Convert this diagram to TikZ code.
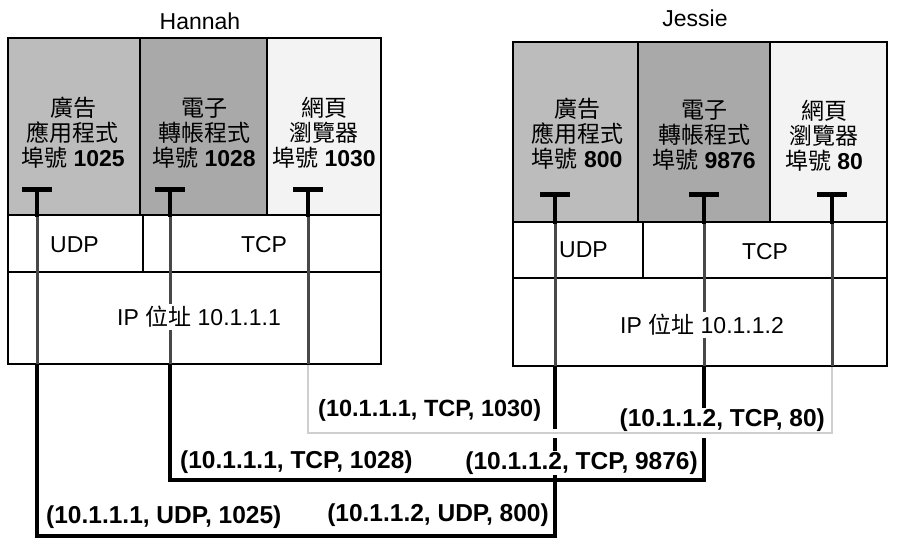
\documentclass[tikz,border=0pt]{standalone}
\usepackage{fontspec}
\setmainfont{Liberation Sans}
\newfontfamily\cjk{Noto Sans CJK TC}
\definecolor{gA}{HTML}{BCBCBC}
\definecolor{gB}{HTML}{A9A9A9}
\definecolor{gC}{HTML}{F3F3F3}
\definecolor{lightroute}{HTML}{CFCFCF}
\definecolor{stemgray}{HTML}{484848}
\begin{document}
\begin{tikzpicture}[x=1pt,y=-1pt,
  boxline/.style={line width=2.6pt, line cap=rect},
  route/.style={line width=3.4pt, line join=miter, draw=black},
  lroute/.style={line width=2.6pt, line join=miter, draw=lightroute,
     preaction={draw=white, line width=9pt}},
  stemtop/.style={line width=3.4pt, draw=black},
  stemlow/.style={line width=3pt, draw=stemgray},
  tbar/.style={line width=5pt, draw=black},
  lbl/.style={font=\fontsize{24.5}{26}\selectfont\bfseries, fill=white, inner sep=1pt},
  lblsmall/.style={font=\fontsize{23.5}{26}\selectfont\bfseries, fill=white, inner sep=1pt},
  app/.style={align=center, font=\fontsize{23}{25}\selectfont, inner sep=0pt},
  plain/.style={font=\fontsize{23}{25}\selectfont, inner sep=1pt},
  iplbl/.style={font=\fontsize{23}{25}\selectfont, inner sep=2pt, fill=white},
]
\useasboundingbox (0,0) rectangle (905,548);
\fill[white] (0,0) rectangle (905,548);

% T points
\coordinate (hA) at (37,190);
\coordinate (hB) at (170,190);
\coordinate (hC) at (308,190);
\coordinate (jA) at (555,195);
\coordinate (jB) at (704,195);
\coordinate (jC) at (832,195);
% box bottoms
\coordinate (hAb) at (37,364);
\coordinate (hBb) at (170,364);
\coordinate (hCb) at (308,364);
\coordinate (jAb) at (555,366);
\coordinate (jBb) at (704,366);
\coordinate (jCb) at (832,366);
% route levels
\coordinate (yA) at (0,536);
\coordinate (yB) at (0,480);
\coordinate (yC) at (0,433);

% routes outside the boxes
\draw[route] (hAb) -- (hAb |- yA) -| (jAb);
\draw[route] (hBb) -- (hBb |- yB) -| (jBb);
\draw[lroute] (hCb) -- (hCb |- yC) -| (jCb);

% Hannah box
\fill[gA] (8,38) rectangle (140,215);
\fill[gB] (140,38) rectangle (267,215);
\fill[gC] (267,38) rectangle (381,215);
\fill[white] (8,215) rectangle (381,364);
\draw[boxline] (8,38) rectangle (381,364);
\draw[boxline] (8,215) -- (381,215);
\draw[boxline] (8,272) -- (381,272);
\draw[boxline] (140,38) -- (140,215);
\draw[boxline] (267,38) -- (267,215);
\draw[boxline] (143,215) -- (143,272);

% Jessie box
\fill[gA] (513,42) rectangle (638,222);
\fill[gB] (638,42) rectangle (770,222);
\fill[gC] (770,42) rectangle (887,222);
\fill[white] (513,222) rectangle (887,366);
\draw[boxline] (513,42) rectangle (887,366);
\draw[boxline] (513,222) -- (887,222);
\draw[boxline] (513,278) -- (887,278);
\draw[boxline] (638,42) -- (638,222);
\draw[boxline] (770,42) -- (770,222);
\draw[boxline] (643,222) -- (643,278);

% stems in boxes
\draw[stemlow] (hA |- 0,215) -- (hAb);
\draw[stemlow] (hB |- 0,215) -- (hBb);
\draw[stemlow] (hC |- 0,215) -- (hCb);
\draw[stemlow] (jA |- 0,222) -- (jAb);
\draw[stemlow] (jB |- 0,222) -- (jBb);
\draw[stemlow] (jC |- 0,222) -- (jCb);
\draw[stemtop] (hA) -- (hA |- 0,217);
\draw[stemtop] (hB) -- (hB |- 0,217);
\draw[stemtop] (hC) -- (hC |- 0,217);
\draw[stemtop] (jA) -- (jA |- 0,224);
\draw[stemtop] (jB) -- (jB |- 0,224);
\draw[stemtop] (jC) -- (jC |- 0,224);
% T bars
\foreach \p in {hA,hB,hC,jA,jB,jC}
  \draw[tbar] ([xshift=-15pt]\p) -- ([xshift=15pt]\p);

% host names
\node[plain] (hname) at (200,21) {Hannah};
\node[plain] (jname) at (695,18) {Jessie};

% application texts
\node[app] (h1) at (73,133) {{\cjk 廣告}\\{\cjk 應用程式}\\{\cjk 埠號} \textbf{1025}};
\node[app] (h2) at (204,133) {{\cjk 電子}\\{\cjk 轉帳程式}\\{\cjk 埠號} \textbf{1028}};
\node[app] (h3) at (324,133) {{\cjk 網頁}\\{\cjk 瀏覽器}\\{\cjk 埠號} \textbf{1030}};
\node[app] (j1) at (577,134) {{\cjk 廣告}\\{\cjk 應用程式}\\{\cjk 埠號} \textbf{800}};
\node[app] (j2) at (704,135) {{\cjk 電子}\\{\cjk 轉帳程式}\\{\cjk 埠號} \textbf{9876}};
\node[app] (j3) at (824,136) {{\cjk 網頁}\\{\cjk 瀏覽器}\\{\cjk 埠號} \textbf{80}};

% transport / IP
\node[plain, anchor=west] (hudp) at (49,245) {UDP};
\node[plain] (htcp) at (264,245) {TCP};
\node[plain, anchor=west] (judp) at (558,250) {UDP};
\node[plain] (jtcp) at (765,252) {TCP};
\node[iplbl] (hip) at (199,317) {IP {\cjk 位址} 10.1.1.1};
\node[iplbl] (jip) at (702,325) {IP {\cjk 位址} 10.1.1.2};

% socket labels
\node[lbl, anchor=west] (s1) at (45,517) {(10.1.1.1, UDP, 1025)};
\node[lbl, anchor=east] (s2) at (550,515) {(10.1.1.2, UDP, 800)};
\node[lbl, anchor=west] (s3) at (179,462) {(10.1.1.1, TCP, 1028)};
\node[lbl, anchor=east] (s4) at (699,463) {(10.1.1.2, TCP, 9876)};
\node[lblsmall, anchor=west] (s5) at (317,410) {(10.1.1.1, TCP, 1030)};
\node[lbl, anchor=east] (s6) at (826,420) {(10.1.1.2, TCP, 80)};
\end{tikzpicture}
\end{document}
